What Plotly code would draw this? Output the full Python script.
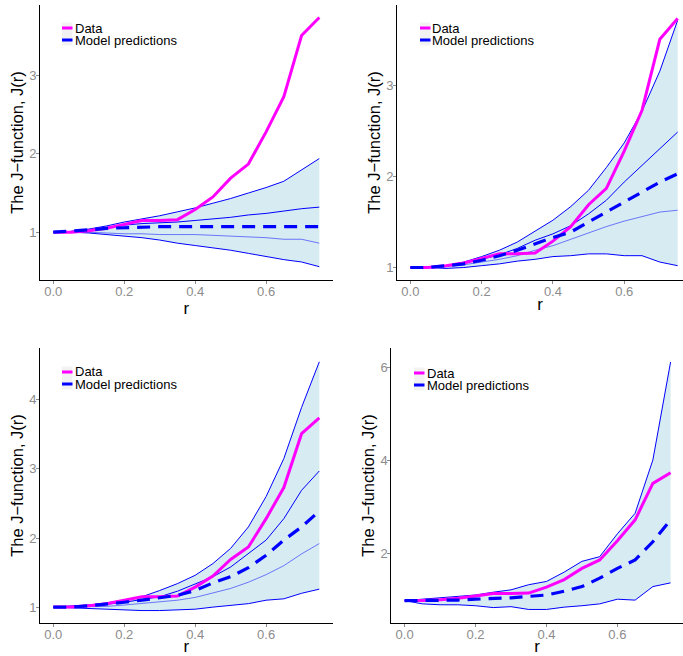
import plotly.graph_objects as go

W, H = 683, 656

# ---------------- data ----------------
r = [0.00, 0.05, 0.10, 0.15, 0.20, 0.25, 0.30, 0.35, 0.40, 0.45, 0.50, 0.55, 0.60, 0.65, 0.70, 0.75]

data_j = [1.00, 1.00, 1.02, 1.05, 1.10, 1.15, 1.15, 1.16, 1.29, 1.45, 1.69, 1.87, 2.28, 2.73, 3.51, 3.74]

# Panel 1 (top-left)
p1_mean = [1.00, 1.01, 1.03, 1.05, 1.06, 1.07, 1.07, 1.07, 1.07, 1.07, 1.07, 1.07, 1.06, 1.07, 1.07, 1.07]
p1_upper_outer = [1.00, 1.01, 1.04, 1.08, 1.13, 1.17, 1.21, 1.26, 1.31, 1.37, 1.43, 1.50, 1.57, 1.65, 1.79, 1.94]
p1_upper_inner = [1.00, 1.01, 1.03, 1.06, 1.09, 1.11, 1.12, 1.13, 1.15, 1.17, 1.19, 1.22, 1.24, 1.27, 1.30, 1.32]
p1_lower_inner = [1.00, 1.00, 1.00, 0.99, 0.98, 0.98, 0.97, 0.97, 0.97, 0.96, 0.95, 0.94, 0.93, 0.91, 0.91, 0.86]
p1_lower_outer = [1.00, 1.00, 0.99, 0.97, 0.95, 0.93, 0.90, 0.86, 0.83, 0.80, 0.77, 0.73, 0.69, 0.65, 0.62, 0.56]

# Panel 2 (top-right)
p2_mean = [1.00, 1.00, 1.02, 1.04, 1.08, 1.13, 1.19, 1.26, 1.33, 1.39, 1.50, 1.61, 1.71, 1.83, 1.94, 2.03]
p2_upper_outer = [1.00, 1.00, 1.02, 1.06, 1.12, 1.19, 1.28, 1.40, 1.52, 1.67, 1.85, 2.10, 2.37, 2.72, 3.16, 3.72]
p2_upper_inner = [1.00, 1.00, 1.02, 1.05, 1.09, 1.14, 1.21, 1.30, 1.37, 1.46, 1.59, 1.74, 1.94, 2.12, 2.30, 2.49]
p2_lower_inner = [1.00, 1.00, 1.01, 1.03, 1.06, 1.09, 1.13, 1.19, 1.24, 1.31, 1.38, 1.45, 1.51, 1.56, 1.61, 1.63]
p2_lower_outer = [1.00, 1.00, 0.99, 1.00, 1.02, 1.04, 1.07, 1.09, 1.12, 1.13, 1.15, 1.15, 1.13, 1.13, 1.06, 1.02]

# Panel 3 (bottom-left)
p3_mean = [1.00, 1.00, 1.02, 1.04, 1.07, 1.10, 1.13, 1.17, 1.24, 1.35, 1.44, 1.57, 1.75, 1.97, 2.16, 2.39]
p3_upper_outer = [1.00, 1.01, 1.03, 1.06, 1.10, 1.15, 1.24, 1.34, 1.46, 1.63, 1.85, 2.16, 2.60, 3.15, 3.89, 4.55]
p3_upper_inner = [1.00, 1.01, 1.02, 1.04, 1.07, 1.11, 1.15, 1.23, 1.33, 1.44, 1.58, 1.77, 1.97, 2.28, 2.69, 2.97]
p3_lower_inner = [1.00, 1.00, 1.00, 1.01, 1.03, 1.05, 1.07, 1.10, 1.14, 1.20, 1.27, 1.36, 1.47, 1.60, 1.77, 1.92]
p3_lower_outer = [1.00, 0.99, 0.97, 0.96, 0.95, 0.95, 0.95, 0.96, 0.97, 1.00, 1.02, 1.05, 1.10, 1.12, 1.20, 1.26]

# Panel 4 (bottom-right)
p4_mean = [1.00, 1.00, 1.00, 1.01, 1.03, 1.04, 1.06, 1.09, 1.12, 1.20, 1.30, 1.48, 1.69, 1.87, 2.26, 2.73]
p4_upper_outer = [1.00, 1.03, 1.05, 1.09, 1.12, 1.18, 1.23, 1.34, 1.41, 1.61, 1.84, 1.94, 2.43, 2.87, 4.01, 6.11]
p4_lower_outer = [1.00, 0.93, 0.91, 0.91, 0.89, 0.85, 0.87, 0.81, 0.81, 0.86, 0.89, 0.93, 1.03, 1.01, 1.30, 1.38]

y_ticks = [[1, 2, 3], [1, 2, 3], [1, 2, 3, 4], [2, 4, 6]]
x_ticks = [0.0, 0.2, 0.4, 0.6]
legend_labels = ["Data", "Model predictions"]
x_title = "r"
y_title = "The J\u2212function, J(r)"

# ---------------- styling / layout ----------------
FONT = "Liberation Sans, Arial, Helvetica, sans-serif"
MAGENTA = "#FF00FF"
BLUE = "#0000FF"
BAND = "rgba(173,216,230,0.5)"
TICKGREY = "#8c8c8c"


def px(x):
    return x / W


def py(y):
    return 1 - y / H


panels = [
    dict(mean=p1_mean, uo=p1_upper_outer, ui=p1_upper_inner, li=p1_lower_inner, lo=p1_lower_outer,
         xdom=(40, 332.6), ydom=(5, 280), xr=(-0.0375, 0.7875), yr=(0.39, 3.9), key=(62, 28)),
    dict(mean=p2_mean, uo=p2_upper_outer, ui=p2_upper_inner, li=p2_lower_inner, lo=p2_lower_outer,
         xdom=(397, 683), ydom=(5, 280), xr=(-0.0375, 0.765), yr=(0.8625, 3.8875), key=(420, 28)),
    dict(mean=p3_mean, uo=p3_upper_outer, ui=p3_upper_inner, li=p3_lower_inner, lo=p3_lower_outer,
         xdom=(40, 332.6), ydom=(348, 623), xr=(-0.0375, 0.7875), yr=(0.77, 4.75), key=(62, 372)),
    dict(mean=p4_mean, uo=p4_upper_outer, ui=None, li=None, lo=p4_lower_outer,
         xdom=(391.3, 683), ydom=(348, 623), xr=(-0.0375, 0.785), yr=(0.52, 6.41), key=(414, 373)),
]

fig = go.Figure()
shapes = []
annotations = []

for i, p in enumerate(panels):
    n = "" if i == 0 else str(i + 1)
    xa, ya = "x" + n, "y" + n
    # ribbon
    fig.add_trace(go.Scatter(x=r, y=p["lo"], mode="lines", line=dict(width=0, color=BAND),
                             xaxis=xa, yaxis=ya, showlegend=False, hoverinfo="skip"))
    fig.add_trace(go.Scatter(x=r, y=p["uo"], mode="lines", line=dict(width=0, color=BAND),
                             fill="tonexty", fillcolor=BAND,
                             xaxis=xa, yaxis=ya, showlegend=False, hoverinfo="skip"))
    # band lines
    fig.add_trace(go.Scatter(x=r, y=p["uo"], mode="lines", line=dict(width=1, color=BLUE),
                             xaxis=xa, yaxis=ya, showlegend=False))
    fig.add_trace(go.Scatter(x=r, y=p["lo"], mode="lines", line=dict(width=1, color=BLUE),
                             xaxis=xa, yaxis=ya, showlegend=False))
    if p["ui"] is not None:
        fig.add_trace(go.Scatter(x=r, y=p["ui"], mode="lines", line=dict(width=1, color=BLUE),
                                 xaxis=xa, yaxis=ya, showlegend=False))
        fig.add_trace(go.Scatter(x=r, y=p["li"], mode="lines",
                                 line=dict(width=1, color="rgba(0,0,255,0.5)"),
                                 xaxis=xa, yaxis=ya, showlegend=False))
    # data
    fig.add_trace(go.Scatter(x=r, y=data_j, mode="lines", name=legend_labels[0],
                             line=dict(width=3, color=MAGENTA),
                             xaxis=xa, yaxis=ya, showlegend=False))
    # mean prediction
    fig.add_trace(go.Scatter(x=r, y=p["mean"], mode="lines", name=legend_labels[1],
                             line=dict(width=3.2, color=BLUE, dash="13px,8px"),
                             xaxis=xa, yaxis=ya, showlegend=False))

    axcommon = dict(showgrid=False, zeroline=False, showline=True, linecolor="black", linewidth=1,
                    ticks="outside", ticklen=3, tickcolor=TICKGREY, tickwidth=1,
                    tickfont=dict(family=FONT, size=13, color=TICKGREY), automargin=False)
    fig.layout["xaxis" + n] = dict(
        domain=[px(p["xdom"][0]), px(p["xdom"][1])], range=list(p["xr"]),
        anchor=ya, tickvals=x_ticks, tickformat=".1f", ticklabelstandoff=-4,
        title=dict(text=x_title, font=dict(family=FONT, size=17, color="black"), standoff=0),
        **axcommon)
    fig.layout["yaxis" + n] = dict(
        domain=[py(p["ydom"][1]), py(p["ydom"][0])], range=list(p["yr"]),
        anchor=xa, tickvals=y_ticks[i], ticklabelstandoff=-3,
        title=dict(text=y_title, font=dict(family=FONT, size=16.5, color="black"), standoff=1),
        **axcommon)

    # manual legend (ggplot-style compact keys)
    kx, ky = p["key"]
    gap = 12
    shapes.append(dict(type="rect", xref="paper", yref="paper",
                       x0=px(kx), x1=px(kx + 10.5), y0=py(ky - 5.5), y1=py(ky + gap + 5.5),
                       fillcolor="#F2F2F2", line=dict(width=0), layer="above"))
    shapes.append(dict(type="line", xref="paper", yref="paper",
                       x0=px(kx), x1=px(kx + 10.5), y0=py(ky), y1=py(ky),
                       line=dict(color=MAGENTA, width=3), layer="above"))
    shapes.append(dict(type="line", xref="paper", yref="paper",
                       x0=px(kx), x1=px(kx + 10.5), y0=py(ky + gap), y1=py(ky + gap),
                       line=dict(color=BLUE, width=3), layer="above"))
    for j, lab in enumerate(legend_labels):
        annotations.append(dict(text=lab, xref="paper", yref="paper",
                                x=px(kx + 11.5), y=py(ky + gap * j), xanchor="left", yanchor="middle",
                                showarrow=False, borderpad=0,
                                font=dict(family=FONT, size=13, color="black")))

fig.update_layout(
    width=W, height=H, margin=dict(l=0, r=0, t=0, b=0),
    paper_bgcolor="white", plot_bgcolor="white",
    shapes=shapes, annotations=annotations, showlegend=False,
)

fig.write_html(
    "out.html",
    config={"displayModeBar": False},
    post_script="document.body.style.margin='0';document.body.style.padding='0';"
                "document.body.style.overflow='hidden';",
)
